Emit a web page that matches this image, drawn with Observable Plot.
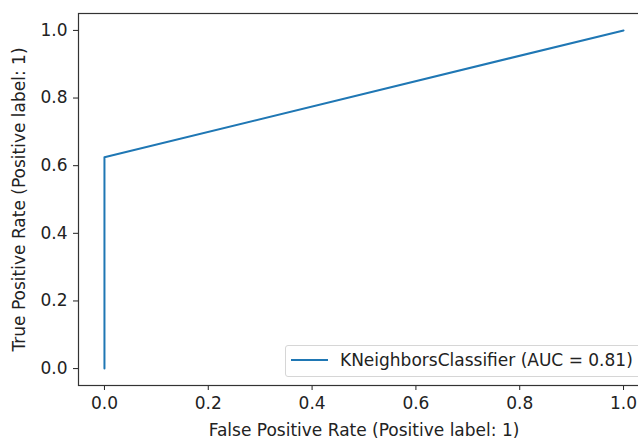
<!DOCTYPE html>
<html>
<head>
<meta charset="utf-8">
<script src="https://cdn.jsdelivr.net/npm/d3@7"></script>
<script src="https://cdn.jsdelivr.net/npm/@observablehq/plot@0.6"></script>
<style>
  html, body { margin: 0; padding: 0; background: #fff; overflow: hidden; }
  #wrap { position: relative; width: 638px; height: 439px; overflow: hidden; }
  #wrap svg { max-width: none !important; }
  #legend {
    position: absolute; left: 285px; top: 345px; width: 360px; height: 32px;
    border: 1px solid #d6d6d6; border-radius: 3px; background: rgba(255,255,255,0.8);
    font-family: "DejaVu Sans", sans-serif; font-size: 17px; color: #222;
    box-sizing: border-box;
  }
  #legend .sw { position: absolute; left: 5px; top: 13px; width: 37px; height: 2px; background: #1f77b4; }
  #legend .lb { position: absolute; left: 54px; top: 4px; white-space: nowrap; line-height: 20px; }
</style>
</head>
<body>
<div id="wrap"></div>
<script>
const fpr = [0.0, 0.0, 1.0];
const tpr = [0.0, 0.625, 1.0];
const ticks = [0, 0.2, 0.4, 0.6, 0.8, 1.0];
const seriesName = "KNeighborsClassifier (AUC = 0.81)";
const xLabel = "False Positive Rate (Positive label: 1)";
const yLabel = "True Positive Rate (Positive label: 1)";

const data = fpr.map((x, i) => ({x, y: tpr[i]}));

const chart = Plot.plot({
  width: 652,
  height: 439,
  marginLeft: 78,
  marginRight: 3,
  marginTop: 13,
  marginBottom: 54,
  style: {fontFamily: "DejaVu Sans, sans-serif", fontSize: "17px", color: "#222", background: "#fff", maxWidth: "none"},
  x: {domain: [-0.05, 1.05], ticks, tickFormat: d3.format(".1f"), tickSize: 5, tickPadding: 6,
      label: xLabel, labelAnchor: "center", labelArrow: "none", labelOffset: 50},
  y: {domain: [-0.05, 1.05], ticks, tickFormat: d3.format(".1f"), tickSize: 5, tickPadding: 6,
      label: yLabel, labelAnchor: "center", labelArrow: "none", labelOffset: 66},
  marks: [
    Plot.frame({stroke: "#333", strokeWidth: 1.2}),
    Plot.line(data, {x: "x", y: "y", stroke: "#1f77b4", strokeWidth: 2})
  ]
});

const wrap = document.getElementById("wrap");
wrap.appendChild(chart);
const lg = document.createElement("div");
lg.id = "legend";
lg.innerHTML = `<div class="sw"></div><div class="lb">${seriesName}</div>`;
wrap.appendChild(lg);
</script>
</body>
</html>
